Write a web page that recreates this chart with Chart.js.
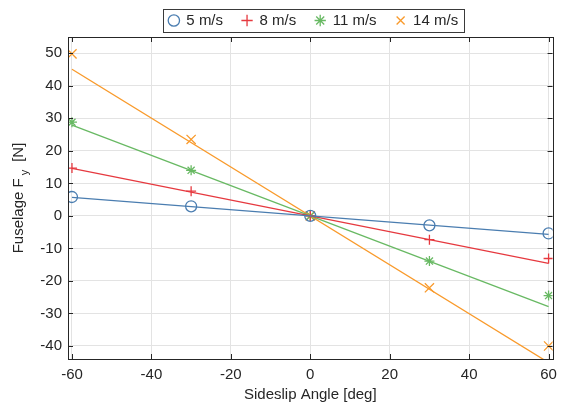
<!DOCTYPE html>
<html>
<head>
<meta charset="utf-8">
<script src="https://cdn.jsdelivr.net/npm/chart.js@4.4.1/dist/chart.umd.min.js"></script>
<style>
  body { margin: 0; background: #fff; }
  canvas { display: block; }
</style>
</head>
<body>
<canvas id="fyChart" width="564" height="404"></canvas>
<script>
// Data
const angles = [-60, -30, 0, 30, 60];
const speeds = ["5 m/s", "8 m/s", "11 m/s", "14 m/s"];
const fy5 = [5.8, 2.95, 0, -2.9, -5.4];
const fy8 = [14.7, 7.6, 0, -7.3, -13.1];
const fy11 = [28.8, 14.0, 0, -13.9, -24.5];
const fy14 = [49.8, 23.5, 0, -22.1, -40.0];
// fitted lines, values at -60 and +60 deg
const fitAngles = [-60, 60];
const fit5 = [5.7, -5.7];
const fit8 = [14.6, -14.6];
const fit11 = [27.9, -27.9];
const fit14 = [45.1, -45.1];

const xTicks = [-60, -40, -20, 0, 20, 40, 60];
const yTicks = [-40, -30, -20, -10, 0, 10, 20, 30, 40, 50];

const colors = ["#4a7db0", "#e6393f", "#68b963", "#f99a2b"];
const markers = ["circle", "cross", "star", "crossRot"];
const markerSize = [5.5, 5, 5, 6.5];
const measured = [fy5, fy8, fy11, fy14];
const fits = [fit5, fit8, fit11, fit14];

const FONT = "'Liberation Sans', Arial, Helvetica, sans-serif";
const FS = 15;
const INK = "#262626";

const toPts = (xs, ys) => xs.map((x, i) => ({ x: x, y: ys[i] }));

const datasets = [];
fits.forEach((f, i) => {
  datasets.push({
    label: "",
    data: toPts(fitAngles, f),
    showLine: true,
    borderColor: colors[i],
    borderWidth: 1.3,
    pointRadius: 0,
    fill: false,
  });
});
measured.forEach((m, i) => {
  datasets.push({
    label: speeds[i],
    data: toPts(angles, m),
    showLine: false,
    pointStyle: markers[i],
    pointRadius: markerSize[i],
    pointBorderColor: colors[i],
    pointBackgroundColor: "rgba(0,0,0,0)",
    pointBorderWidth: 1.3,
    borderColor: colors[i],
    backgroundColor: "rgba(0,0,0,0)",
  });
});

// box around plot + inward ticks, legend border and y title
const frame = {
  id: "frame",
  afterLayout(chart) {
    // center the legend over the plot area, not the whole canvas
    const lg = chart.legend;
    lg.left = 68;
    lg.right = 559;
    lg.top += 1;
    lg.bottom += 1;
  },
  afterDraw(chart) {
    const c = chart.ctx;
    const a = chart.chartArea;
    const xs = chart.scales.x, ys = chart.scales.y;
    c.save();
    c.strokeStyle = INK;
    c.lineWidth = 1;
    c.beginPath();
    xTicks.forEach((t) => {
      const px = Math.round(xs.getPixelForValue(t)) + 0.5;
      c.moveTo(px, a.bottom); c.lineTo(px, a.bottom - 5);
      c.moveTo(px, a.top); c.lineTo(px, a.top + 5);
    });
    yTicks.forEach((t) => {
      const py = Math.round(ys.getPixelForValue(t)) + 0.5;
      c.moveTo(a.left, py); c.lineTo(a.left + 5, py);
      c.moveTo(a.right, py); c.lineTo(a.right - 5, py);
    });
    c.stroke();
    c.strokeRect(Math.round(a.left) + 0.5, Math.round(a.top) + 0.5,
      Math.round(a.right - a.left), Math.round(a.bottom - a.top));

    // legend box
    const boxes = chart.legend.legendHitBoxes;
    if (boxes && boxes.length) {
      const l = Math.min(...boxes.map((b) => b.left)) - 6;
      const r = Math.max(...boxes.map((b) => b.left + b.width)) + 6;
      const t = boxes[0].top - 4;
      const h = boxes[0].height + 8;
      c.strokeStyle = "#3a3a3a";
      c.strokeRect(Math.round(l) + 0.5, Math.round(t) + 0.5, Math.round(r - l), Math.round(h));
    }

    // y axis title with subscript
    const cy = (a.top + a.bottom) / 2;
    c.translate(19, cy);
    c.rotate(-Math.PI / 2);
    c.fillStyle = INK;
    c.textBaseline = "middle";
    c.textAlign = "left";
    const big = FS + "px " + FONT, small = "11px " + FONT;
    c.font = big;
    const w1 = c.measureText("Fuselage F").width;
    const w3 = c.measureText("[N]").width;
    c.font = small;
    const w2 = c.measureText("y").width;
    const g1 = 3, g2 = 8;
    let x0 = -(w1 + g1 + w2 + g2 + w3) / 2;
    c.font = big;
    c.fillText("Fuselage F", x0, 0);
    c.font = small;
    c.fillText("y", x0 + w1 + g1, 6);
    c.font = big;
    c.fillText("[N]", x0 + w1 + g1 + w2 + g2, 0);
    c.restore();
  },
};

new Chart(document.getElementById("fyChart"), {
  type: "scatter",
  data: { datasets: datasets },
  options: {
    responsive: false,
    devicePixelRatio: 1,
    animation: false,
    layout: { padding: { top: -7, right: 9, bottom: 0, left: 0 } },
    plugins: {
      legend: {
        position: "top",
        labels: {
          usePointStyle: true,
          boxWidth: 10,
          boxHeight: 8,
          color: INK,
          font: { family: FONT, size: FS },
          padding: 19,
          filter: (item) => item.text !== "",
        },
      },
      tooltip: { enabled: false },
    },
    scales: {
      x: {
        type: "linear",
        min: -61,
        max: 61,
        afterBuildTicks: (s) => { s.ticks = xTicks.map((v) => ({ value: v })); },
        afterFit: (s) => { s.height = 45; },
        grid: { color: "#e3e3e3", drawTicks: false },
        border: { display: false },
        ticks: { color: INK, font: { family: FONT, size: FS }, padding: 7 },
        title: {
          display: true,
          text: "Sideslip Angle [deg]",
          color: INK,
          font: { family: FONT, size: FS },
          padding: { top: 2, bottom: 0 },
        },
      },
      y: {
        type: "linear",
        min: -44,
        max: 55,
        afterBuildTicks: (s) => { s.ticks = yTicks.map((v) => ({ value: v })); },
        afterFit: (s) => { s.width = 68; },
        grid: { color: "#e3e3e3", drawTicks: false },
        border: { display: false },
        ticks: { color: INK, font: { family: FONT, size: FS }, padding: 6 },
      },
    },
  },
  plugins: [frame],
});
</script>
</body>
</html>
